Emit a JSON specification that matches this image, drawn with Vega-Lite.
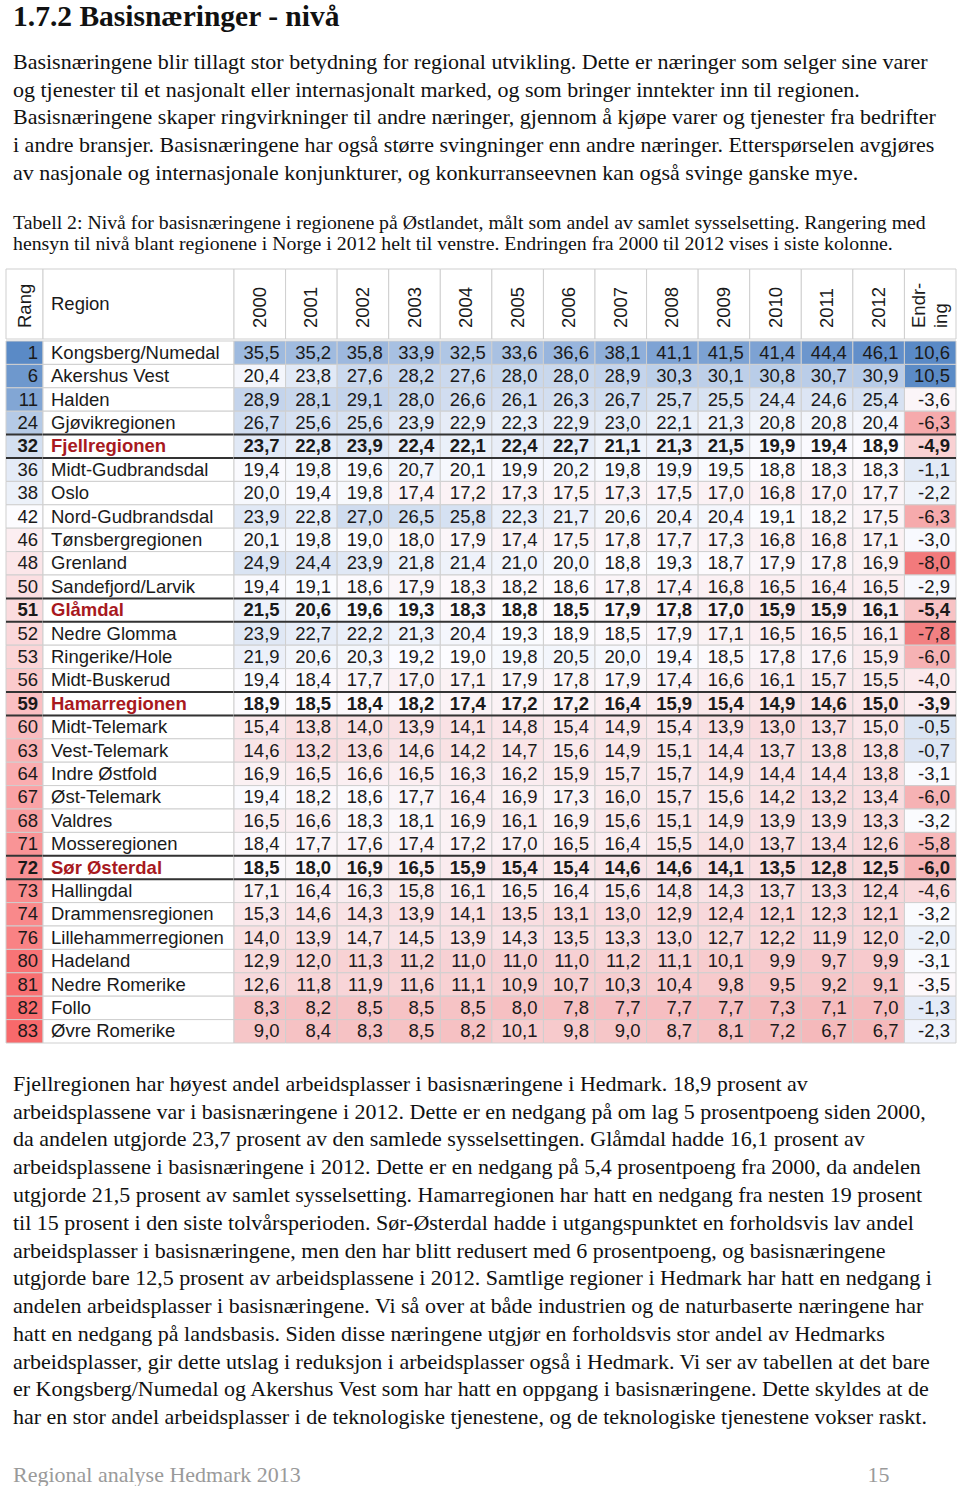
{
"$schema": "https://vega.github.io/schema/vega-lite/v6.json",
"background": "white",
"padding": {"left": 5, "top": 2, "right": 5, "bottom": 0},
"config": {
  "view": {"stroke": null},
  "locale": {"number": {"decimal": ",", "thousands": " ", "grouping": [3], "currency": ["", ""], "minus": "-"}},
  "text": {"font": "Liberation Sans", "fontSize": 18.5, "color": "#1a1a1a"}
},
"title": {
  "text": "1.7.2 Basisnæringer - nivå",
  "subtitle": [
    "Basisnæringene blir tillagt stor betydning for regional utvikling. Dette er næringer som selger sine varer",
    "og tjenester til et nasjonalt eller internasjonalt marked, og som bringer inntekter inn til regionen.",
    "Basisnæringene skaper ringvirkninger til andre næringer, gjennom å kjøpe varer og tjenester fra bedrifter",
    "i andre bransjer. Basisnæringene har også større svingninger enn andre næringer. Etterspørselen avgjøres",
    "av nasjonale og internasjonale konjunkturer, og konkurranseevnen kan også svinge ganske mye."
  ],
  "anchor": "start", "frame": "group", "dx": 7,
  "font": "Liberation Serif", "fontSize": 29.5, "fontWeight": "bold", "color": "#111111",
  "subtitleFont": "Liberation Serif", "subtitleFontSize": 22, "subtitleColor": "#111111",
  "subtitleLineHeight": 27.7, "subtitlePadding": 19, "offset": 28
},
"datasets": {
  "rows": [
    {"rang":1,"region":"Kongsberg/Numedal","hedmark":false,"2000":35.5,"2001":35.2,"2002":35.8,"2003":33.9,"2004":32.5,"2005":33.6,"2006":36.6,"2007":38.1,"2008":41.1,"2009":41.5,"2010":41.4,"2011":44.4,"2012":46.1,"Endring":10.6},
    {"rang":6,"region":"Akershus Vest","hedmark":false,"2000":20.4,"2001":23.8,"2002":27.6,"2003":28.2,"2004":27.6,"2005":28.0,"2006":28.0,"2007":28.9,"2008":30.3,"2009":30.1,"2010":30.8,"2011":30.7,"2012":30.9,"Endring":10.5},
    {"rang":11,"region":"Halden","hedmark":false,"2000":28.9,"2001":28.1,"2002":29.1,"2003":28.0,"2004":26.6,"2005":26.1,"2006":26.3,"2007":26.7,"2008":25.7,"2009":25.5,"2010":24.4,"2011":24.6,"2012":25.4,"Endring":-3.6},
    {"rang":24,"region":"Gjøvikregionen","hedmark":false,"2000":26.7,"2001":25.6,"2002":25.6,"2003":23.9,"2004":22.9,"2005":22.3,"2006":22.9,"2007":23.0,"2008":22.1,"2009":21.3,"2010":20.8,"2011":20.8,"2012":20.4,"Endring":-6.3},
    {"rang":32,"region":"Fjellregionen","hedmark":true,"2000":23.7,"2001":22.8,"2002":23.9,"2003":22.4,"2004":22.1,"2005":22.4,"2006":22.7,"2007":21.1,"2008":21.3,"2009":21.5,"2010":19.9,"2011":19.4,"2012":18.9,"Endring":-4.9},
    {"rang":36,"region":"Midt-Gudbrandsdal","hedmark":false,"2000":19.4,"2001":19.8,"2002":19.6,"2003":20.7,"2004":20.1,"2005":19.9,"2006":20.2,"2007":19.8,"2008":19.9,"2009":19.5,"2010":18.8,"2011":18.3,"2012":18.3,"Endring":-1.1},
    {"rang":38,"region":"Oslo","hedmark":false,"2000":20.0,"2001":19.4,"2002":19.8,"2003":17.4,"2004":17.2,"2005":17.3,"2006":17.5,"2007":17.3,"2008":17.5,"2009":17.0,"2010":16.8,"2011":17.0,"2012":17.7,"Endring":-2.2},
    {"rang":42,"region":"Nord-Gudbrandsdal","hedmark":false,"2000":23.9,"2001":22.8,"2002":27.0,"2003":26.5,"2004":25.8,"2005":22.3,"2006":21.7,"2007":20.6,"2008":20.4,"2009":20.4,"2010":19.1,"2011":18.2,"2012":17.5,"Endring":-6.3},
    {"rang":46,"region":"Tønsbergregionen","hedmark":false,"2000":20.1,"2001":19.8,"2002":19.0,"2003":18.0,"2004":17.9,"2005":17.4,"2006":17.5,"2007":17.8,"2008":17.7,"2009":17.3,"2010":16.8,"2011":16.8,"2012":17.1,"Endring":-3.0},
    {"rang":48,"region":"Grenland","hedmark":false,"2000":24.9,"2001":24.4,"2002":23.9,"2003":21.8,"2004":21.4,"2005":21.0,"2006":20.0,"2007":18.8,"2008":19.3,"2009":18.7,"2010":17.9,"2011":17.8,"2012":16.9,"Endring":-8.0},
    {"rang":50,"region":"Sandefjord/Larvik","hedmark":false,"2000":19.4,"2001":19.1,"2002":18.6,"2003":17.9,"2004":18.3,"2005":18.2,"2006":18.6,"2007":17.8,"2008":17.4,"2009":16.8,"2010":16.5,"2011":16.4,"2012":16.5,"Endring":-2.9},
    {"rang":51,"region":"Glåmdal","hedmark":true,"2000":21.5,"2001":20.6,"2002":19.6,"2003":19.3,"2004":18.3,"2005":18.8,"2006":18.5,"2007":17.9,"2008":17.8,"2009":17.0,"2010":15.9,"2011":15.9,"2012":16.1,"Endring":-5.4},
    {"rang":52,"region":"Nedre Glomma","hedmark":false,"2000":23.9,"2001":22.7,"2002":22.2,"2003":21.3,"2004":20.4,"2005":19.3,"2006":18.9,"2007":18.5,"2008":17.9,"2009":17.1,"2010":16.5,"2011":16.5,"2012":16.1,"Endring":-7.8},
    {"rang":53,"region":"Ringerike/Hole","hedmark":false,"2000":21.9,"2001":20.6,"2002":20.3,"2003":19.2,"2004":19.0,"2005":19.8,"2006":20.5,"2007":20.0,"2008":19.4,"2009":18.5,"2010":17.8,"2011":17.6,"2012":15.9,"Endring":-6.0},
    {"rang":56,"region":"Midt-Buskerud","hedmark":false,"2000":19.4,"2001":18.4,"2002":17.7,"2003":17.0,"2004":17.1,"2005":17.9,"2006":17.8,"2007":17.9,"2008":17.4,"2009":16.6,"2010":16.1,"2011":15.7,"2012":15.5,"Endring":-4.0},
    {"rang":59,"region":"Hamarregionen","hedmark":true,"2000":18.9,"2001":18.5,"2002":18.4,"2003":18.2,"2004":17.4,"2005":17.2,"2006":17.2,"2007":16.4,"2008":15.9,"2009":15.4,"2010":14.9,"2011":14.6,"2012":15.0,"Endring":-3.9},
    {"rang":60,"region":"Midt-Telemark","hedmark":false,"2000":15.4,"2001":13.8,"2002":14.0,"2003":13.9,"2004":14.1,"2005":14.8,"2006":15.4,"2007":14.9,"2008":15.4,"2009":13.9,"2010":13.0,"2011":13.7,"2012":15.0,"Endring":-0.5},
    {"rang":63,"region":"Vest-Telemark","hedmark":false,"2000":14.6,"2001":13.2,"2002":13.6,"2003":14.6,"2004":14.2,"2005":14.7,"2006":15.6,"2007":14.9,"2008":15.1,"2009":14.4,"2010":13.7,"2011":13.8,"2012":13.8,"Endring":-0.7},
    {"rang":64,"region":"Indre Østfold","hedmark":false,"2000":16.9,"2001":16.5,"2002":16.6,"2003":16.5,"2004":16.3,"2005":16.2,"2006":15.9,"2007":15.7,"2008":15.7,"2009":14.9,"2010":14.4,"2011":14.4,"2012":13.8,"Endring":-3.1},
    {"rang":67,"region":"Øst-Telemark","hedmark":false,"2000":19.4,"2001":18.2,"2002":18.6,"2003":17.7,"2004":16.4,"2005":16.9,"2006":17.3,"2007":16.0,"2008":15.7,"2009":15.6,"2010":14.2,"2011":13.2,"2012":13.4,"Endring":-6.0},
    {"rang":68,"region":"Valdres","hedmark":false,"2000":16.5,"2001":16.6,"2002":18.3,"2003":18.1,"2004":16.9,"2005":16.1,"2006":16.9,"2007":15.6,"2008":15.1,"2009":14.9,"2010":13.9,"2011":13.9,"2012":13.3,"Endring":-3.2},
    {"rang":71,"region":"Mosseregionen","hedmark":false,"2000":18.4,"2001":17.7,"2002":17.6,"2003":17.4,"2004":17.2,"2005":17.0,"2006":16.5,"2007":16.4,"2008":15.5,"2009":14.0,"2010":13.7,"2011":13.4,"2012":12.6,"Endring":-5.8},
    {"rang":72,"region":"Sør Østerdal","hedmark":true,"2000":18.5,"2001":18.0,"2002":16.9,"2003":16.5,"2004":15.9,"2005":15.4,"2006":15.4,"2007":14.6,"2008":14.6,"2009":14.1,"2010":13.5,"2011":12.8,"2012":12.5,"Endring":-6.0},
    {"rang":73,"region":"Hallingdal","hedmark":false,"2000":17.1,"2001":16.4,"2002":16.3,"2003":15.8,"2004":16.1,"2005":16.5,"2006":16.4,"2007":15.6,"2008":14.8,"2009":14.3,"2010":13.7,"2011":13.3,"2012":12.4,"Endring":-4.6},
    {"rang":74,"region":"Drammensregionen","hedmark":false,"2000":15.3,"2001":14.6,"2002":14.3,"2003":13.9,"2004":14.1,"2005":13.5,"2006":13.1,"2007":13.0,"2008":12.9,"2009":12.4,"2010":12.1,"2011":12.3,"2012":12.1,"Endring":-3.2},
    {"rang":76,"region":"Lillehammerregionen","hedmark":false,"2000":14.0,"2001":13.9,"2002":14.7,"2003":14.5,"2004":13.9,"2005":14.3,"2006":13.5,"2007":13.3,"2008":13.0,"2009":12.7,"2010":12.2,"2011":11.9,"2012":12.0,"Endring":-2.0},
    {"rang":80,"region":"Hadeland","hedmark":false,"2000":12.9,"2001":12.0,"2002":11.3,"2003":11.2,"2004":11.0,"2005":11.0,"2006":11.0,"2007":11.2,"2008":11.1,"2009":10.1,"2010":9.9,"2011":9.7,"2012":9.9,"Endring":-3.1},
    {"rang":81,"region":"Nedre Romerike","hedmark":false,"2000":12.6,"2001":11.8,"2002":11.9,"2003":11.6,"2004":11.1,"2005":10.9,"2006":10.7,"2007":10.3,"2008":10.4,"2009":9.8,"2010":9.5,"2011":9.2,"2012":9.1,"Endring":-3.5},
    {"rang":82,"region":"Follo","hedmark":false,"2000":8.3,"2001":8.2,"2002":8.5,"2003":8.5,"2004":8.5,"2005":8.0,"2006":7.8,"2007":7.7,"2008":7.7,"2009":7.7,"2010":7.3,"2011":7.1,"2012":7.0,"Endring":-1.3},
    {"rang":83,"region":"Øvre Romerike","hedmark":false,"2000":9.0,"2001":8.4,"2002":8.3,"2003":8.5,"2004":8.2,"2005":10.1,"2006":9.8,"2007":9.0,"2008":8.7,"2009":8.1,"2010":7.2,"2011":6.7,"2012":6.7,"Endring":-2.3}
  ],
  "columns": [
    {"col":"Rang","label":"Rang"},{"col":"Region","label":"Region"},
    {"col":"2000","label":"2000"},{"col":"2001","label":"2001"},{"col":"2002","label":"2002"},{"col":"2003","label":"2003"},{"col":"2004","label":"2004"},{"col":"2005","label":"2005"},{"col":"2006","label":"2006"},{"col":"2007","label":"2007"},{"col":"2008","label":"2008"},{"col":"2009","label":"2009"},{"col":"2010","label":"2010"},{"col":"2011","label":"2011"},{"col":"2012","label":"2012"},{"col":"Endring","label":"Endr-\ning"}
  ],
  "paragraph": [
    {"line":1,"text":"Fjellregionen har høyest andel arbeidsplasser i basisnæringene i Hedmark. 18,9 prosent av"},
    {"line":2,"text":"arbeidsplassene var i basisnæringene i 2012. Dette er en nedgang på om lag 5 prosentpoeng siden 2000,"},
    {"line":3,"text":"da andelen utgjorde 23,7 prosent av den samlede sysselsettingen. Glåmdal hadde 16,1 prosent av"},
    {"line":4,"text":"arbeidsplassene i basisnæringene i 2012. Dette er en nedgang på 5,4 prosentpoeng fra 2000, da andelen"},
    {"line":5,"text":"utgjorde 21,5 prosent av samlet sysselsetting. Hamarregionen har hatt en nedgang fra nesten 19 prosent"},
    {"line":6,"text":"til 15 prosent i den siste tolvårsperioden. Sør-Østerdal hadde i utgangspunktet en forholdsvis lav andel"},
    {"line":7,"text":"arbeidsplasser i basisnæringene, men den har blitt redusert med 6 prosentpoeng, og basisnæringene"},
    {"line":8,"text":"utgjorde bare 12,5 prosent av arbeidsplassene i 2012. Samtlige regioner i Hedmark har hatt en nedgang i"},
    {"line":9,"text":"andelen arbeidsplasser i basisnæringene. Vi så over at både industrien og de naturbaserte næringene har"},
    {"line":10,"text":"hatt en nedgang på landsbasis. Siden disse næringene utgjør en forholdsvis stor andel av Hedmarks"},
    {"line":11,"text":"arbeidsplasser, gir dette utslag i reduksjon i arbeidsplasser også i Hedmark. Vi ser av tabellen at det bare"},
    {"line":12,"text":"er Kongsberg/Numedal og Akershus Vest som har hatt en oppgang i basisnæringene. Dette skyldes at de"},
    {"line":13,"text":"har en stor andel arbeidsplasser i de teknologiske tjenestene, og de teknologiske tjenestene vokser raskt."}
  ],
  "footer": [
    {"side":"left","text":"Regional analyse Hedmark 2013"},
    {"side":"right","text":"15"}
  ]
},
"spacing": 26,
"vconcat": [
  {
    "title": {
      "text": ["Tabell 2: Nivå for basisnæringene i regionene på Østlandet, målt som andel av samlet sysselsetting. Rangering med", "hensyn til nivå blant regionene i Norge i 2012 helt til venstre. Endringen fra 2000 til 2012 vises i siste kolonne."],
      "anchor": "start", "frame": "group", "dx": 7, "font": "Liberation Serif", "fontSize": 19.8, "fontWeight": "normal",
      "lineHeight": 21, "color": "#111111", "offset": 15
    },
    "spacing": 0,
    "vconcat": [
      {
        "spacing": 0, "bounds": "flush",
        "hconcat": [
          {
            "width": 37, "height": 70,
            "data": {"name": "columns"},
            "transform": [{"filter": "datum.col == 'Rang'"}],
            "layer": [
              {"mark": {"type": "rect", "fill": "white", "stroke": "#cfcfcf", "strokeWidth": 1}, "encoding": {}},
              {"mark": {"type": "text", "angle": 270, "align": "left", "baseline": "middle", "dx": 11},
               "encoding": {"y": {"datum": 0, "type": "quantitative", "scale": {"domain": [0, 1]}, "axis": null}, "text": {"field": "label"}}}
            ]
          },
          {
            "width": 191, "height": 70,
            "data": {"name": "columns"},
            "transform": [{"filter": "datum.col == 'Region'"}],
            "layer": [
              {"mark": {"type": "rect", "fill": "white", "stroke": "#cfcfcf", "strokeWidth": 1}, "encoding": {}},
              {"mark": {"type": "text", "align": "left", "baseline": "middle", "dx": 8},
               "encoding": {"x": {"datum": 0, "type": "quantitative", "scale": {"domain": [0, 1]}, "axis": null}, "text": {"field": "label"}}}
            ]
          },
          {
            "width": 722, "height": 70,
            "data": {"name": "columns"},
            "transform": [{"filter": "datum.col != 'Rang' && datum.col != 'Region'"}],
            "encoding": {
              "x": {"field": "col", "type": "nominal", "axis": null, "sort": null,
                    "scale": {"domain": ["2000","2001","2002","2003","2004","2005","2006","2007","2008","2009","2010","2011","2012","Endring"], "paddingInner": 0, "paddingOuter": 0}}
            },
            "layer": [
              {"mark": {"type": "rect", "fill": "white", "stroke": "#cfcfcf", "strokeWidth": 1}},
              {"transform": [{"filter": "datum.col != 'Endring'"}],
               "mark": {"type": "text", "angle": 270, "align": "left", "baseline": "middle", "dx": 11},
               "encoding": {"y": {"datum": 0, "type": "quantitative", "scale": {"domain": [0, 1]}, "axis": null}, "text": {"field": "label"}}},
              {"transform": [{"filter": "datum.col == 'Endring'"}],
               "mark": {"type": "text", "angle": 270, "align": "left", "baseline": "middle", "dx": 11, "dy": -11, "lineBreak": "\n", "lineHeight": 22},
               "encoding": {"y": {"datum": 0, "type": "quantitative", "scale": {"domain": [0, 1]}, "axis": null}, "text": {"field": "label"}}}
            ]
          }
        ]
      },
      {
        "spacing": 0, "bounds": "flush",
        "hconcat": [
          {
            "width": 37, "height": 702,
            "data": {"name": "rows"},
            "encoding": {"y": {"field": "region", "type": "nominal", "axis": null, "sort": null, "scale": {"paddingInner": 0, "paddingOuter": 0}}},
            "layer": [
              {"mark": {"type": "rect", "stroke": "#cfcfcf", "strokeWidth": 1},
               "encoding": {"color": {"field": "rang", "type": "quantitative", "legend": null, "scale": {"domain": [1, 42, 83], "range": ["#5a8ac6", "#fcfcff", "#f8696b"], "interpolate": "rgb"}}}},
              {"transform": [{"filter": "!datum.hedmark"}],
               "mark": {"type": "text", "align": "right", "baseline": "middle", "dx": -5},
               "encoding": {"x": {"datum": 1, "type": "quantitative", "scale": {"domain": [0, 1]}, "axis": null}, "text": {"field": "rang", "type": "quantitative"}}},
              {"transform": [{"filter": "datum.hedmark"}],
               "mark": {"type": "text", "align": "right", "baseline": "middle", "dx": -5, "fontWeight": "bold"},
               "encoding": {"x": {"datum": 1, "type": "quantitative", "scale": {"domain": [0, 1]}, "axis": null}, "text": {"field": "rang", "type": "quantitative"}}},
              {"transform": [{"filter": "datum.hedmark"}],
               "mark": {"type": "rule", "color": "#333333", "strokeWidth": 2},
               "encoding": {"y": {"field": "region", "type": "nominal", "bandPosition": 0, "axis": null, "sort": null}}},
              {"transform": [{"filter": "datum.hedmark"}],
               "mark": {"type": "rule", "color": "#333333", "strokeWidth": 2},
               "encoding": {"y": {"field": "region", "type": "nominal", "bandPosition": 1, "axis": null, "sort": null}}}
            ]
          },
          {
            "width": 191, "height": 702,
            "data": {"name": "rows"},
            "encoding": {"y": {"field": "region", "type": "nominal", "axis": null, "sort": null, "scale": {"paddingInner": 0, "paddingOuter": 0}}},
            "layer": [
              {"mark": {"type": "rect", "fill": "white", "stroke": "#cfcfcf", "strokeWidth": 1}},
              {"transform": [{"filter": "!datum.hedmark"}],
               "mark": {"type": "text", "align": "left", "baseline": "middle", "dx": 8},
               "encoding": {"x": {"datum": 0, "type": "quantitative", "scale": {"domain": [0, 1]}, "axis": null}, "text": {"field": "region"}}},
              {"transform": [{"filter": "datum.hedmark"}],
               "mark": {"type": "text", "align": "left", "baseline": "middle", "dx": 8, "fontWeight": "bold", "color": "#a8191e"},
               "encoding": {"x": {"datum": 0, "type": "quantitative", "scale": {"domain": [0, 1]}, "axis": null}, "text": {"field": "region"}}},
              {"transform": [{"filter": "datum.hedmark"}],
               "mark": {"type": "rule", "color": "#333333", "strokeWidth": 2},
               "encoding": {"y": {"field": "region", "type": "nominal", "bandPosition": 0, "axis": null, "sort": null}}},
              {"transform": [{"filter": "datum.hedmark"}],
               "mark": {"type": "rule", "color": "#333333", "strokeWidth": 2},
               "encoding": {"y": {"field": "region", "type": "nominal", "bandPosition": 1, "axis": null, "sort": null}}}
            ]
          },
          {
            "width": 722, "height": 702,
            "data": {"name": "rows"},
            "transform": [{"fold": ["2000","2001","2002","2003","2004","2005","2006","2007","2008","2009","2010","2011","2012","Endring"], "as": ["key", "value"]}],
            "encoding": {
              "x": {"field": "key", "type": "nominal", "axis": null, "sort": null,
                    "scale": {"domain": ["2000","2001","2002","2003","2004","2005","2006","2007","2008","2009","2010","2011","2012","Endring"], "paddingInner": 0, "paddingOuter": 0}},
              "y": {"field": "region", "type": "nominal", "axis": null, "sort": null, "scale": {"paddingInner": 0, "paddingOuter": 0}}
            },
            "layer": [
              {"transform": [{"filter": "datum.key != 'Endring'"}],
               "mark": {"type": "rect", "stroke": "#cfcfcf", "strokeWidth": 1},
               "encoding": {"color": {"field": "value", "type": "quantitative", "legend": null, "scale": {"domain": [6.7, 19, 46.1], "range": ["#f5b9bb", "#fcfcff", "#628fca"], "interpolate": "rgb"}}}},
              {"transform": [{"filter": "datum.key == 'Endring'"}],
               "mark": {"type": "rect", "stroke": "#cfcfcf", "strokeWidth": 1},
               "encoding": {"color": {"field": "value", "type": "quantitative", "legend": null, "scale": {"domain": [-8, -3.35, 10.6], "range": ["#f27a7c", "#fcfcff", "#5a8ac6"], "interpolate": "rgb"}}}},
              {"transform": [{"filter": "!datum.hedmark"}],
               "mark": {"type": "text", "align": "right", "baseline": "middle", "dx": -6},
               "encoding": {"x": {"field": "key", "type": "nominal", "bandPosition": 1, "axis": null, "sort": null,
                    "scale": {"domain": ["2000","2001","2002","2003","2004","2005","2006","2007","2008","2009","2010","2011","2012","Endring"], "paddingInner": 0, "paddingOuter": 0}},
                            "text": {"field": "value", "type": "quantitative", "format": ".1f"}}},
              {"transform": [{"filter": "datum.hedmark"}],
               "mark": {"type": "text", "align": "right", "baseline": "middle", "dx": -6, "fontWeight": "bold"},
               "encoding": {"x": {"field": "key", "type": "nominal", "bandPosition": 1, "axis": null, "sort": null,
                    "scale": {"domain": ["2000","2001","2002","2003","2004","2005","2006","2007","2008","2009","2010","2011","2012","Endring"], "paddingInner": 0, "paddingOuter": 0}},
                            "text": {"field": "value", "type": "quantitative", "format": ".1f"}}},
              {"transform": [{"filter": "datum.hedmark && datum.key == '2000'"}],
               "mark": {"type": "rule", "color": "#333333", "strokeWidth": 2},
               "encoding": {"x": null, "y": {"field": "region", "type": "nominal", "bandPosition": 0, "axis": null, "sort": null}}},
              {"transform": [{"filter": "datum.hedmark && datum.key == '2000'"}],
               "mark": {"type": "rule", "color": "#333333", "strokeWidth": 2},
               "encoding": {"x": null, "y": {"field": "region", "type": "nominal", "bandPosition": 1, "axis": null, "sort": null}}}
            ],
            "resolve": {"scale": {"color": "independent"}}
          }
        ]
      }
    ]
  },
  {
    "width": 950, "height": 361,
    "data": {"name": "paragraph"},
    "mark": {"type": "text", "align": "left", "baseline": "middle", "dx": 7, "font": "Liberation Serif", "fontSize": 22, "color": "#111111"},
    "encoding": {
      "y": {"field": "line", "type": "ordinal", "axis": null, "scale": {"paddingInner": 0, "paddingOuter": 0}},
      "x": {"datum": 0, "type": "quantitative", "scale": {"domain": [0, 1]}, "axis": null},
      "text": {"field": "text"}
    }
  },
  {
    "width": 950, "height": 25,
    "data": {"name": "footer"},
    "layer": [
      {"transform": [{"filter": "datum.side == 'left'"}],
       "mark": {"type": "text", "align": "left", "baseline": "alphabetic", "dx": 7, "font": "Liberation Serif", "fontSize": 22, "color": "#9a9a9a"},
       "encoding": {"x": {"datum": 0, "type": "quantitative", "scale": {"domain": [0, 1]}, "axis": null},
                    "y": {"datum": 0, "type": "quantitative", "scale": {"domain": [0, 1]}, "axis": null},
                    "text": {"field": "text"}}},
      {"transform": [{"filter": "datum.side == 'right'"}],
       "mark": {"type": "text", "align": "right", "baseline": "alphabetic", "font": "Liberation Serif", "fontSize": 22, "color": "#9a9a9a"},
       "encoding": {"x": {"datum": 0.93, "type": "quantitative", "scale": {"domain": [0, 1]}, "axis": null},
                    "y": {"datum": 0, "type": "quantitative", "scale": {"domain": [0, 1]}, "axis": null},
                    "text": {"field": "text"}}}
    ]
  }
]
}
